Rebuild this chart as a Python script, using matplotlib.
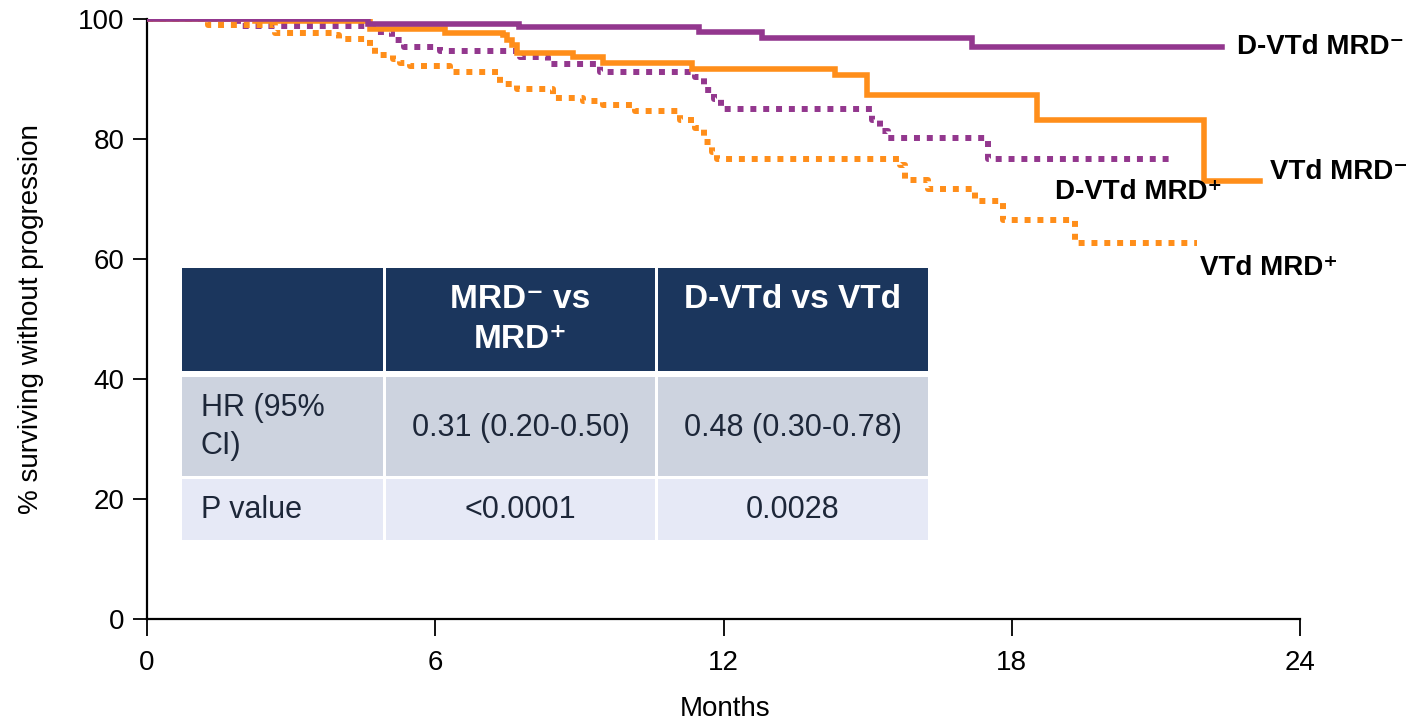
import matplotlib
matplotlib.use("Agg")
import matplotlib.pyplot as plt
from matplotlib.patches import Rectangle

plt.rcParams["font.family"] = ["Liberation Sans", "DejaVu Sans"]

# Kaplan-Meier step curves: time in months, % progression-free
dvtd_neg_t = [0, 4.6, 7.74, 11.5, 12.8, 17.17, 22.37]
dvtd_neg_s = [100, 99.2, 98.6, 97.8, 96.9, 95.4, 95.4]

vtd_neg_t = [0, 2.25, 4.65, 6.2, 7.4, 7.5, 7.6, 7.7, 8.87, 9.5, 11.34, 14.32, 14.98, 18.53, 22.0, 23.17]
vtd_neg_s = [100, 99.6, 98.3, 97.7, 97.3, 96.5, 95.7, 94.4, 93.6, 92.7, 91.7, 90.6, 87.3, 83.2, 73.0, 73.0]

dvtd_pos_t = [0, 1.9, 4.7, 5.1, 5.35, 6.1, 7.76, 8.35, 9.43, 11.4, 11.6, 11.8, 11.95, 15.1, 15.25, 15.42, 17.5, 21.4]
dvtd_pos_s = [100, 98.9, 97.8, 96.5, 95.4, 94.7, 93.6, 92.5, 91.2, 90.4, 88.2, 86.6, 85.0, 83.2, 81.4, 80.2, 76.6, 76.6]

vtd_pos_t = [0, 1.27, 2.66, 3.87, 4.0, 4.64, 4.75, 5.12, 5.27, 5.47, 6.3, 7.35, 7.7, 8.45, 9.07,
             9.5, 10.16, 11.1, 11.4, 11.6, 11.76, 11.86, 15.67, 15.78, 16.26, 17.24, 17.82, 19.32, 21.85]
vtd_pos_s = [100, 99.0, 97.6, 97.3, 96.6, 95.4, 94.0, 93.4, 92.6, 92.2, 91.2, 89.2, 88.3, 86.9, 86.4,
             85.6, 84.6, 83.2, 81.8, 79.5, 77.9, 76.7, 75.7, 73.2, 71.7, 69.6, 66.5, 62.7, 62.7]

x_ticks = [0, 6, 12, 18, 24]
y_ticks = [0, 20, 40, 60, 80, 100]

# Hazard-ratio summary table
table_cols = ["", "MRD\u207b vs\nMRD\u207a", "D-VTd vs VTd"]
row_labels = ["HR (95%\nCI)", "P value"]
hr_values = ["0.31 (0.20-0.50)", "0.48 (0.30-0.78)"]
p_values = ["<0.0001", "0.0028"]

PURPLE = "#93378E"
ORANGE = "#FF8E1A"

W, H = 1414, 721
fig = plt.figure(figsize=(W / 100, H / 100), dpi=100)
ax = fig.add_axes([147 / W, 1 - 619 / H, (1300 - 147) / W, 600 / H])

lw = 4.0
dot_lw = 4.3
ax.plot(dvtd_neg_t, dvtd_neg_s, drawstyle="steps-post", color=PURPLE, lw=lw, solid_joinstyle="miter", zorder=4)
ax.plot(vtd_neg_t, vtd_neg_s, drawstyle="steps-post", color=ORANGE, lw=lw, solid_joinstyle="miter", zorder=3)
ax.plot(dvtd_pos_t, dvtd_pos_s, drawstyle="steps-post", color=PURPLE, lw=dot_lw,
        linestyle=(0, (1, 1.15)), dash_capstyle="butt", zorder=2)
ax.plot(vtd_pos_t, vtd_pos_s, drawstyle="steps-post", color=ORANGE, lw=dot_lw,
        linestyle=(0, (1, 1.15)), dash_capstyle="butt", zorder=2)

ax.set_xlim(0, 24)
ax.set_ylim(0, 100)
ax.set_xticks(x_ticks)
ax.set_yticks(y_ticks)
ax.spines["top"].set_visible(False)
ax.spines["right"].set_visible(False)
for s in ("left", "bottom"):
    ax.spines[s].set_linewidth(1.6)
ax.tick_params(axis="x", length=12, width=1.3, pad=10, labelsize=20)
ax.tick_params(axis="y", length=10, width=1.3, pad=6, labelsize=20)
ax.set_xlabel("Months", fontsize=20)
ax.xaxis.set_label_coords(0.501, -0.128)
ax.set_ylabel("% surviving without progression", fontsize=20)
ax.yaxis.set_label_coords(-0.089, 0.5)

# Curve labels
lab_kw = dict(fontsize=20, fontweight="bold", va="center", ha="left", clip_on=False)
ax.text(22.69, 95.3, "D-VTd MRD\u207b", **lab_kw)
ax.text(23.38, 74.5, "VTd MRD\u207b", **lab_kw)
ax.text(18.9, 71.2, "D-VTd MRD\u207a", **lab_kw)
ax.text(21.92, 58.5, "VTd MRD\u207a", **lab_kw)


def fx(px):
    return px / W


def fy(py):
    return 1 - py / H


col_edges = [(182, 383), (386, 655), (658, 928)]
row_edges = [(268, 371), (377, 476), (479, 540)]
row_colors = ["#1B365D", "#CDD3DF", "#E6E9F6"]
TXT = "#1D2739"

for (y0, y1), c in zip(row_edges, row_colors):
    for (x0, x1) in col_edges:
        fig.add_artist(Rectangle((fx(x0), fy(y1)), fx(x1) - fx(x0), fy(y0) - fy(y1),
                                 transform=fig.transFigure, facecolor=c, edgecolor="none", zorder=5))

# Header
for (x0, x1), txt in zip(col_edges[1:], table_cols[1:]):
    for i, line in enumerate(txt.split("\n")):
        fig.text(fx((x0 + x1) / 2), fy(300 + 40 * i), line, color="white", fontsize=24,
                 fontweight="bold", ha="center", va="center", zorder=6)

# HR row
for i, line in enumerate(row_labels[0].split("\n")):
    fig.text(fx(201), fy(408 + 38 * i), line, color=TXT, fontsize=22, ha="left", va="center", zorder=6)
for (x0, x1), v in zip(col_edges[1:], hr_values):
    fig.text(fx((x0 + x1) / 2), fy(428), v, color=TXT, fontsize=22, ha="center", va="center", zorder=6)

# P value row
fig.text(fx(201), fy(510), row_labels[1], color=TXT, fontsize=22, ha="left", va="center", zorder=6)
for (x0, x1), v in zip(col_edges[1:], p_values):
    fig.text(fx((x0 + x1) / 2), fy(510), v, color=TXT, fontsize=22, ha="center", va="center", zorder=6)

fig.savefig("out.png", dpi=100)
